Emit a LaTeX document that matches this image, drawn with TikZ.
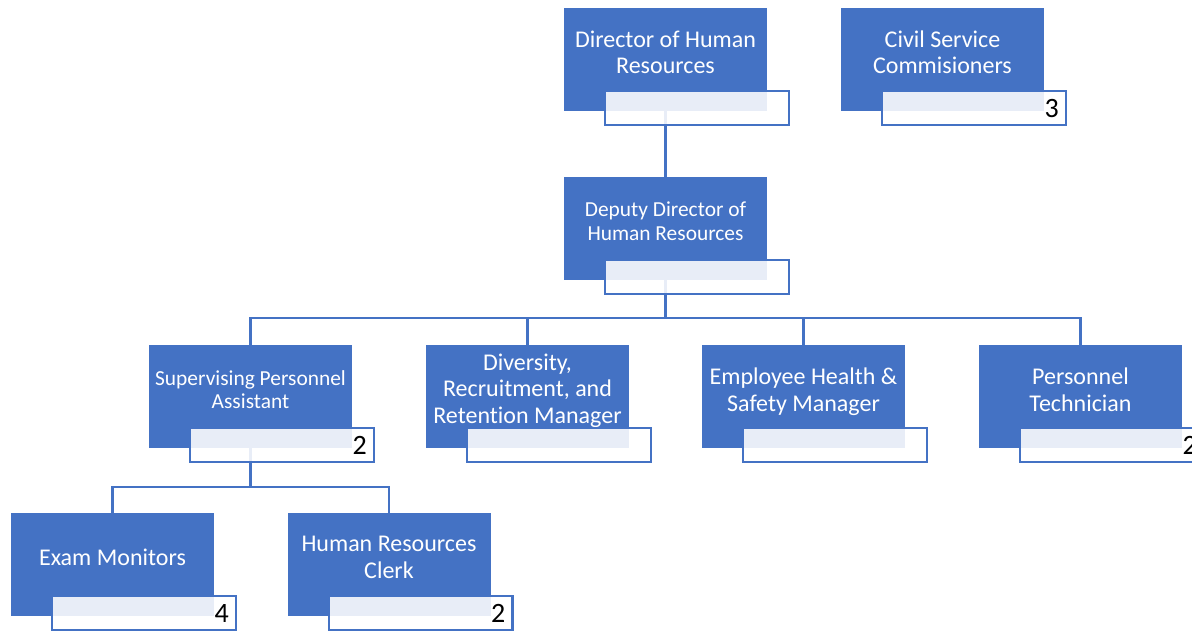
\documentclass[tikz,border=0pt]{standalone}
\usepackage{fontspec}
\setmainfont{Carlito}[Ligatures={NoCommon}]
\pgfdeclarelayer{bg}
\pgfsetlayers{bg,main}
\definecolor{orgblue}{HTML}{4472C4}
\newcommand\mlines[1]{\begin{tabular}[t]{@{}c@{}}#1\end{tabular}}
\newcommand\bigtxt{\fontsize{24}{26.7}\selectfont}
\newcommand\smalltxt{\fontsize{21.4}{23.3}\selectfont}
\newcommand\numtxt{\fontsize{28}{30}\selectfont}
\tikzset{
  bluebox/.style={fill=orgblue, minimum width=203pt, minimum height=103pt, inner sep=0pt, outer sep=0pt},
  lblbox/.style={draw=orgblue, line width=2.4pt, fill=white, fill opacity=0.88, draw opacity=1, minimum width=183.6pt, minimum height=33.6pt, inner sep=0pt, outer sep=0pt},
  txt/.style={text=white, anchor=base, inner sep=0pt},
  num/.style={text=black, anchor=base east, inner sep=0pt, font=\numtxt},
  conn/.style={draw=orgblue, line width=2.7pt}
}
\begin{document}
\begin{tikzpicture}[x=1pt,y=-1pt]
\useasboundingbox (0,0) rectangle (1192,630);
\clip (0,0) rectangle (1192,630);
% blue boxes
\node[bluebox] (dir) at (665.5,59.5) {};
\node[bluebox] (civ) at (942.5,59.5) {};
\node[bluebox] (dep) at (665.5,228.5) {};
\node[bluebox] (sup) at (250.5,396.5) {};
\node[bluebox] (div) at (527.5,396.5) {};
\node[bluebox] (emp) at (803.5,396.5) {};
\node[bluebox] (per) at (1080.5,396.5) {};
\node[bluebox] (exm) at (112.5,564.5) {};
\node[bluebox] (hrc) at (389,564.5) {};
% texts
\node[txt, font=\bigtxt] (dirt) at (665.5,47) {\mlines{Director of Human\\Resources}};
\node[txt, font=\bigtxt] (civt) at (942.5,47) {\mlines{Civil Service\\Commisioners}};
\node[txt, font=\smalltxt] (dept) at (665.5,216.7) {\mlines{Deputy Director of\\Human Resources}};
\node[txt, font=\smalltxt] (supt) at (250.5,385) {\mlines{Supervising Personnel\\Assistant}};
\node[txt, font=\bigtxt] (divt) at (527.5,370) {\mlines{Diversity,\\Recruitment, and\\Retention Manager}};
\node[txt, font=\bigtxt] (empt) at (803.5,384.3) {\mlines{Employee Health \&\\Safety Manager}};
\node[txt, font=\bigtxt] (pert) at (1080.5,384.3) {\mlines{Personnel\\Technician}};
\node[txt, font=\bigtxt] (exmt) at (112.5,565) {\mlines{Exam Monitors}};
\node[txt, font=\bigtxt] (hrct) at (389,551.7) {\mlines{Human Resources\\Clerk}};
% label boxes
\node[lblbox] (dirl) at (697,108) {};
\node[lblbox] (civl) at (974,108) {};
\node[lblbox] (depl) at (697,277) {};
\node[lblbox] (supl) at (282,445) {};
\node[lblbox] (divl) at (559,445) {};
\node[lblbox] (empl) at (835,445) {};
\node[lblbox] (perl) at (1112,445) {};
\node[lblbox] (exml) at (144,613) {};
\node[lblbox] (hrcl) at (420.5,613) {};
% numbers
\node[num] (civn) at (1059,117) {3};
\node[num] (supn) at (367,454) {2};
\node[num] (pern) at (1197,454) {2};
\node[num] (exmn) at (229,622) {4};
\node[num] (hrcn) at (505.5,622) {2};
% connectors
\begin{pgfonlayer}{bg}
\coordinate (f1) at (665.5,318);
\coordinate (f2) at (250.5,487);
\draw[conn] (dir.south) -- (dep.north);
\draw[conn] (dep.south) -- (f1);
\draw[conn] (f1) -| (sup.north);
\draw[conn] (f1) -| (div.north);
\draw[conn] (f1) -| (emp.north);
\draw[conn] (f1) -| (per.north);
\draw[conn] (sup.south) -- (f2);
\draw[conn] (f2) -| (exm.north);
\draw[conn] (f2) -| (hrc.north);
\end{pgfonlayer}
\end{tikzpicture}
\end{document}
